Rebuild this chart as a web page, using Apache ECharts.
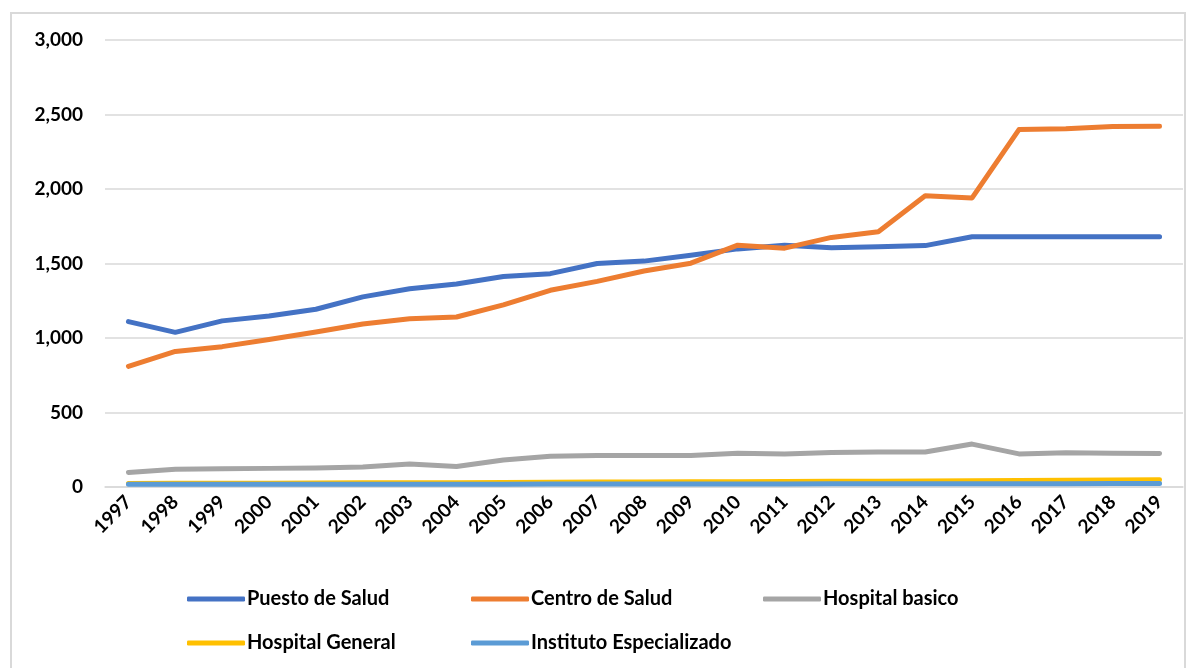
<!DOCTYPE html>
<html>
<head>
<meta charset="utf-8">
<script src="https://cdn.jsdelivr.net/npm/echarts@6/dist/echarts.min.js"></script>
<style>
  html, body { margin: 0; padding: 0; background: #fff; }
  #frame { position: absolute; left: 10px; top: 12px; width: 1176px; height: 700px; border: 2px solid #d9d9d9; box-sizing: border-box; }
  #chart { position: absolute; left: 0; top: 0; width: 1200px; height: 668px; }
</style>
</head>
<body>
<div id="frame"></div>
<div id="chart"></div>
<script>
// Years on the horizontal axis
const years = ['1997','1998','1999','2000','2001','2002','2003','2004','2005','2006','2007','2008',
               '2009','2010','2011','2012','2013','2014','2015','2016','2017','2018','2019'];

// Number of establishments by type
const puestoSalud = [1110, 1038, 1115, 1148, 1193, 1276, 1331, 1363, 1413, 1432, 1500, 1516,
                     1555, 1598, 1622, 1605, 1613, 1620, 1680, 1680, 1680, 1680, 1680];
const centroSalud = [810, 910, 942, 990, 1040, 1094, 1129, 1141, 1222, 1320, 1380, 1450,
                     1502, 1623, 1603, 1675, 1713, 1955, 1940, 2399, 2405, 2420, 2421];
const hospitalBasico = [98, 119, 123, 125, 128, 134, 155, 137, 181, 207, 212, 212,
                        211, 226, 221, 232, 235, 235, 288, 222, 230, 226, 225];
const hospitalGeneral = [24, 25, 25, 26, 27, 28, 29, 29, 31, 32, 33, 34,
                         35, 36, 37, 38, 39, 40, 42, 44, 45, 47, 48];
const institutoEsp = [18, 18, 18, 18, 19, 19, 19, 19, 19, 20, 20, 20,
                      20, 20, 20, 21, 21, 21, 22, 22, 22, 23, 23];

// Y axis tick settings
const yMin = 0, yMax = 3000, yStep = 500;

const seriesDefs = [
  { name: 'Puesto de Salud', data: puestoSalud, color: '#4472C4' },
  { name: 'Centro de Salud', data: centroSalud, color: '#ED7D31' },
  { name: 'Hospital basico', data: hospitalBasico, color: '#A5A5A5' },
  { name: 'Hospital General', data: hospitalGeneral, color: '#FFC000' },
  { name: 'Instituto Especializado', data: institutoEsp, color: '#5B9BD5' }
];

const font = 'Lato, "Open Sans", sans-serif';
const legendPos = [
  { left: 187, top: 589 }, { left: 471, top: 589 }, { left: 763, top: 589 },
  { left: 187, top: 633 }, { left: 471, top: 633 }
];

const chart = echarts.init(document.getElementById('chart'), null, { renderer: 'canvas' });
chart.setOption({
  backgroundColor: 'transparent',
  animation: false,
  grid: { left: 105, right: 17, top: 40, bottom: 181, containLabel: false },
  xAxis: {
    type: 'category',
    data: years,
    boundaryGap: true,
    axisLine: { show: true, lineStyle: { color: '#d9d9d9', width: 1.5 } },
    axisTick: { show: false },
    axisLabel: {
      rotate: 45, interval: 0, margin: 12,
      color: '#000', fontFamily: font, fontWeight: 'bold', fontSize: 19
    }
  },
  yAxis: {
    type: 'value',
    min: yMin, max: yMax, interval: yStep,
    axisLine: { show: false },
    axisTick: { show: false },
    splitLine: { lineStyle: { color: '#d9d9d9', width: 1.5 } },
    axisLabel: {
      margin: 22, color: '#000', fontFamily: font, fontWeight: 'bold', fontSize: 19,
      formatter: v => v.toLocaleString('en-US')
    }
  },
  legend: seriesDefs.map((s, i) => ({
    data: [s.name],
    left: legendPos[i].left, top: legendPos[i].top,
    padding: 0,
    icon: 'roundRect', itemWidth: 58, itemHeight: 5, itemGap: 0,
    textStyle: { color: '#000', fontFamily: font, fontWeight: 'bold', fontSize: 20, padding: [0, 0, 0, -3] }
  })),
  series: seriesDefs.map(s => ({
    name: s.name,
    type: 'line',
    data: s.data,
    showSymbol: false,
    symbol: 'none',
    color: s.color,
    lineStyle: { color: s.color, width: 5, cap: 'round', join: 'round' }
  }))
});
</script>
</body>
</html>
